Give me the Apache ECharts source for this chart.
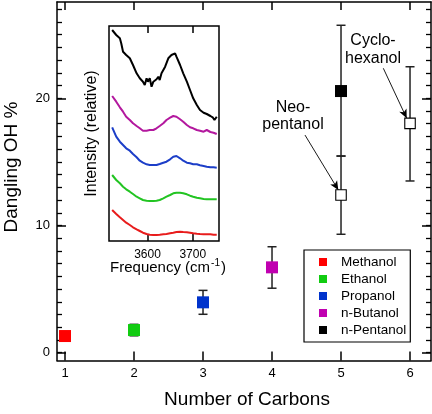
<!DOCTYPE html>
<html>
<head>
<meta charset="utf-8">
<script src="https://cdn.jsdelivr.net/npm/echarts@6/dist/echarts.min.js"></script>
<style>
html,body{margin:0;padding:0;background:#fff;}
#c{width:432px;height:414px;}
</style>
</head>
<body>
<div id="c"></div>
<script>
// ---------- data ----------
const alcohols = ['Methanol', 'Ethanol', 'Propanol', 'n-Butanol', 'n-Pentanol'];
const carbons = [1, 2, 3, 4, 5];
const danglingOH = [1.31, 1.78, 3.96, 6.71, 20.57];
const errLow = [null, 1.33, 3.02, 5.07, 15.46];
const errHigh = [null, 2.23, 4.90, 8.33, 25.74];
const alcoholColors = ['#ff0000', '#11cc11', '#0033cc', '#c000b0', '#000000'];

const branchedNames = ['Neo-\npentanol', 'Cyclo-\nhexanol'];
const branchedCarbons = [5, 6];
const branchedOH = [12.4, 18.03];
const branchedLow = [9.31, 13.5];
const branchedHigh = [15.46, 22.48];

const xTicks = [1, 2, 3, 4, 5, 6];
const yMajorTicks = [0, 10, 20];
const yMinorTicks = [0,1,2,3,4,5,6,7,8,9,10,11,12,13,14,15,16,17,18,19,20,21,22,23,24,25,26,27];
const insetTicks = [3600, 3700];

// inset spectra (relative intensity, offset traces)
const specFreq = [3522,3531,3539,3546,3553,3561,3568,3576,3583,3590,3598,3605,3613,3620,3627,3635,3642,3650,3657,3664,3672,3679,3687,3694,3701,3709,3716,3724,3731,3739,3746,3753];
const specMethanol = [31.0,27.0,23.7,21.0,18.3,16.0,13.7,11.7,10.0,8.3,7.0,6.3,6.0,6.0,6.3,6.7,7.0,7.7,8.3,9.0,9.3,9.0,8.7,8.3,7.7,7.3,7.0,6.7,6.7,6.7,6.3,6.3];
const specEthanol = [66.0,61.0,57.7,54.3,51.7,49.3,47.0,44.3,42.7,41.0,40.3,40.0,40.0,40.3,41.0,42.7,44.3,46.0,47.7,48.3,48.3,47.7,46.7,45.3,44.3,43.3,42.7,42.0,41.7,41.7,41.7,41.7];
const specPropanol = [113.7,104.3,99.3,96.0,92.7,90.3,87.0,83.7,80.3,78.3,76.7,76.0,76.0,76.0,77.0,78.3,79.3,81.7,84.3,85.0,82.7,80.3,78.3,77.7,76.7,76.7,75.7,75.0,74.3,73.7,73.7,73.3];
const specButanol = [145.0,139.3,133.7,129.3,124.3,121.0,117.7,115.0,112.7,110.3,110.3,111.0,111.0,112.7,115.0,117.7,121.0,123.3,125.0,124.3,121.7,119.3,116.0,113.7,112.7,111.0,110.3,109.3,111.0,109.0,108.3,107.0];
const pentFreq = [3522,3531,3539,3542,3546,3553,3561,3568,3576,3583,3590,3594,3598,3601,3605,3609,3613,3616,3620,3624,3627,3631,3639,3646,3653,3661,3664,3672,3679,3687,3694,3701,3709,3716,3724,3731,3739,3744,3748,3753];
const specPentanol = [211.0,206.0,202.7,197.7,189.3,186.0,182.7,176.0,167.7,162.7,159.3,156.0,162.7,159.3,162.7,154.3,159.3,157.7,161.7,164.3,161.0,167.7,174.3,182.7,186.0,187.7,184.3,176.0,167.7,159.3,151.0,142.7,136.0,131.0,128.3,127.0,125.0,123.7,121.0,124.3];
const specColors = ['#e81c1c', '#22c422', '#1c3ec8', '#b3189e', '#000000'];

// arrows (data coordinates of the main plot)
const neoArrow = [[4.478, 17.11], [4.961, 12.79]];
const cycloArrow = [[5.613, 22.36], [5.952, 18.43]];

// ---------- chart ----------
const FONT = '"Liberation Sans", Arial, Helvetica, sans-serif';
const chart = echarts.init(document.getElementById('c'), null, {renderer: 'canvas'});

function renderErr(params, api) {
  const x = api.value(0), lo = api.value(1), hi = api.value(2);
  const pLo = api.coord([x, lo]), pHi = api.coord([x, hi]);
  const hw = 4.5;
  const style = {stroke: '#222', lineWidth: 1.5};
  return {type: 'group', children: [
    {type: 'line', shape: {x1: pLo[0], y1: pLo[1], x2: pHi[0], y2: pHi[1]}, style: style},
    {type: 'line', shape: {x1: pLo[0] - hw, y1: pLo[1], x2: pLo[0] + hw, y2: pLo[1]}, style: style},
    {type: 'line', shape: {x1: pHi[0] - hw, y1: pHi[1], x2: pHi[0] + hw, y2: pHi[1]}, style: style}
  ]};
}

const errData = [];
carbons.forEach((c, i) => { if (errLow[i] != null) errData.push([c, errLow[i], errHigh[i]]); });
branchedCarbons.forEach((c, i) => errData.push([c, branchedLow[i], branchedHigh[i]]));

const axisLineStyle = {color: '#000', width: 1.5};
const series = [];
series.push({
  type: 'custom', xAxisIndex: 0, yAxisIndex: 0, renderItem: renderErr,
  data: errData, z: 2, silent: true,
  markLine: {
    silent: true, symbol: ['none', 'arrow'], symbolSize: [6, 9],
    lineStyle: {color: '#000', width: 0.9, type: 'solid'},
    label: {show: false},
    data: [
      [{coord: neoArrow[0]}, {coord: neoArrow[1]}],
      [{coord: cycloArrow[0]}, {coord: cycloArrow[1]}]
    ]
  }
});
alcohols.forEach((name, i) => {
  series.push({
    name: name, type: 'scatter', xAxisIndex: 0, yAxisIndex: 0,
    symbol: 'rect', symbolSize: 12,
    itemStyle: {color: alcoholColors[i], opacity: 1},
    data: [[carbons[i], danglingOH[i]]], z: 5
  });
});
series.push({
  name: 'branched', type: 'scatter', xAxisIndex: 0, yAxisIndex: 0,
  symbol: 'rect', symbolSize: 10.5,
  itemStyle: {color: '#fff', borderColor: '#000', borderWidth: 1.1, opacity: 1},
  data: branchedCarbons.map((c, i) => [c, branchedOH[i]]), z: 5
});
[specMethanol, specEthanol, specPropanol, specButanol].forEach((s, i) => {
  series.push({
    name: 'spec' + i, type: 'line', xAxisIndex: 2, yAxisIndex: 2,
    showSymbol: false, silent: true,
    lineStyle: {color: specColors[i], width: 2},
    data: specFreq.map((f, j) => [f, s[j]]), z: 6
  });
});
series.push({
  name: 'spec4', type: 'line', xAxisIndex: 2, yAxisIndex: 2,
  showSymbol: false, silent: true,
  lineStyle: {color: specColors[4], width: 2},
  data: pentFreq.map((f, j) => [f, specPentanol[j]]), z: 6
});

const plainNum = v => String(v);
const minorAxis = pos => ({gridIndex: 2, type: 'value', position: pos, min: -0.613, max: 27.57,
  axisLine: {show: false},
  axisTick: {show: true, inside: true, length: 5, customValues: yMinorTicks, lineStyle: {color: '#000', width: 1.3}},
  axisLabel: {show: false}, splitLine: {show: false}});

const option = {
  animation: false,
  backgroundColor: '#fff',
  textStyle: {fontFamily: FONT},
  grid: [
    {left: 57, top: 2, width: 374, height: 358.5, show: false},
    {left: 109, top: 26, width: 110, height: 215, show: true, backgroundColor: '#fff', borderColor: '#000', borderWidth: 1.5, z: 3},
    {left: 57, top: 2, width: 374, height: 358.5, show: false}
  ],
  xAxis: [
    {gridIndex: 0, type: 'value', position: 'bottom', min: 0.884, max: 6.304,
     axisLine: {show: true, onZero: false, lineStyle: axisLineStyle},
     axisTick: {show: true, inside: true, length: 9, customValues: xTicks, lineStyle: {color: '#000', width: 1.5}},
     axisLabel: {show: true, customValues: xTicks, margin: 6, fontSize: 13, color: '#000', fontFamily: FONT, formatter: plainNum},
     splitLine: {show: false}},
    {gridIndex: 0, type: 'value', position: 'top', min: 0.884, max: 6.304,
     axisLine: {show: true, onZero: false, lineStyle: axisLineStyle},
     axisTick: {show: true, inside: true, length: 8, customValues: xTicks, lineStyle: {color: '#000', width: 1.5}},
     axisLabel: {show: false}, splitLine: {show: false}},
    {gridIndex: 1, type: 'value', position: 'bottom', min: 3515, max: 3758,
     axisLine: {show: false},
     axisTick: {show: true, inside: true, length: 7, customValues: insetTicks, lineStyle: {color: '#000', width: 1.5}},
     axisLabel: {show: true, customValues: insetTicks, margin: 8, fontSize: 12, color: '#000', fontFamily: FONT, formatter: plainNum},
     splitLine: {show: false}, z: 4},
    {gridIndex: 1, type: 'value', position: 'top', min: 3515, max: 3758,
     axisLine: {show: false},
     axisTick: {show: true, inside: true, length: 7, customValues: insetTicks, lineStyle: {color: '#000', width: 1.5}},
     axisLabel: {show: false}, splitLine: {show: false}, z: 4},
    {gridIndex: 2, type: 'value', show: false, min: 0.884, max: 6.304}
  ],
  yAxis: [
    {gridIndex: 0, type: 'value', position: 'left', min: -0.613, max: 27.57,
     axisLine: {show: true, onZero: false, lineStyle: axisLineStyle},
     axisTick: {show: true, inside: true, length: 9, customValues: yMajorTicks, lineStyle: {color: '#000', width: 1.5}},
     axisLabel: {show: true, customValues: yMajorTicks, margin: 7, fontSize: 13, color: '#000', fontFamily: FONT, formatter: plainNum},
     splitLine: {show: false}},
    {gridIndex: 0, type: 'value', position: 'right', min: -0.613, max: 27.57,
     axisLine: {show: true, onZero: false, lineStyle: axisLineStyle},
     axisTick: {show: true, inside: true, length: 9, customValues: yMajorTicks, lineStyle: {color: '#000', width: 1.5}},
     axisLabel: {show: false}, splitLine: {show: false}},
    {gridIndex: 1, type: 'value', min: 0, max: 215,
     axisLine: {show: false}, axisTick: {show: false}, axisLabel: {show: false}, splitLine: {show: false}},
    minorAxis('left'),
    minorAxis('right')
  ],
  legend: {
    data: alcohols, orient: 'vertical', left: 304, top: 250,
    padding: [5, 4, 5, 15], itemWidth: 8, itemHeight: 8, itemGap: 3,
    icon: 'rect', borderColor: '#000', borderWidth: 1.2, backgroundColor: '#fff',
    selectedMode: false,
    textStyle: {fontFamily: FONT, fontSize: 13.5, color: '#000', lineHeight: 14, padding: [0, 0, 0, 9]}
  },
  graphic: [
    {type: 'text', x: 12, y: 167, rotation: Math.PI / 2,
     style: {text: 'Dangling OH %', font: '19px ' + FONT, fill: '#000', align: 'center', verticalAlign: 'middle'}},
    {type: 'text', x: 247, y: 400,
     style: {text: 'Number of Carbons', font: '19px ' + FONT, fill: '#000', align: 'center', verticalAlign: 'middle'}},
    {type: 'text', x: 92, y: 133.5, rotation: Math.PI / 2,
     style: {text: 'Intensity (relative)', font: '16px ' + FONT, fill: '#000', align: 'center', verticalAlign: 'middle'}},
    {type: 'text', x: 168, y: 268,
     style: {text: '{a|Frequency (cm}{s|-1}{a|)}', align: 'center', verticalAlign: 'middle',
       rich: {a: {fontSize: 15, fontFamily: FONT, fill: '#000', color: '#000'},
              s: {fontSize: 10, fontFamily: FONT, color: '#000', verticalAlign: 'top', padding: [0, 1, 10, 1]}}}},
    {type: 'text', x: 293, y: 116,
     style: {text: branchedNames[0], font: '16px ' + FONT, fill: '#000', align: 'center', verticalAlign: 'middle', lineHeight: 17.7}},
    {type: 'text', x: 373, y: 49.5,
     style: {text: branchedNames[1], font: '16px ' + FONT, fill: '#000', align: 'center', verticalAlign: 'middle', lineHeight: 17.7}}
  ],
  series: series
};
chart.setOption(option);
</script>
</body>
</html>
